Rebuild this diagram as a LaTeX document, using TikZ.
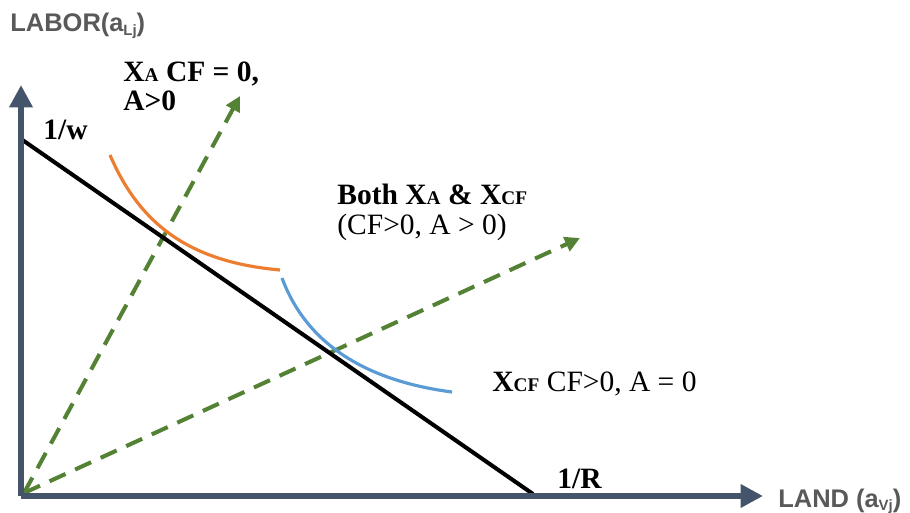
\documentclass[tikz,border=0pt]{standalone}
\usepackage{fontspec}
\setmainfont{Liberation Serif}
\newfontfamily\axisfont{Liberation Sans}
\usetikzlibrary{arrows.meta}
\definecolor{axisblue}{HTML}{44546A}
\definecolor{raygreen}{HTML}{548235}
\definecolor{isoorange}{HTML}{ED7D31}
\definecolor{isoblue}{HTML}{5B9BD5}
\definecolor{labelgray}{HTML}{595959}
\newcommand\lowcap[1]{{\fontsize{11}{11}\selectfont #1}}
\newcommand\axsub[1]{\raisebox{-2pt}{\fontsize{8.5}{8.5}\selectfont #1}}

\begin{document}
\begin{tikzpicture}[x=0.02cm,y=-0.02cm,
  every node/.style={font=\fontsize{16.8}{18}\selectfont,inner sep=0pt,anchor=base west},
  axis/.style={draw=axisblue,line width=3.4pt,-{Triangle[length=0.45cm,width=0.45cm]}},
  ray/.style={draw=raygreen,line width=2.3pt,dash pattern=on 10pt off 6pt,-{Triangle[length=0.3cm,width=0.3cm]}},
  budget/.style={draw=black,line width=2.3pt},
  iso/.style={line width=1.8pt},
  boldlbl/.style={font=\fontsize{16.8}{18}\selectfont\bfseries},
  axislabel/.style={font=\axisfont\bfseries\fontsize{14.5}{16}\selectfont,text=labelgray}]
\useasboundingbox (0,0) rectangle (910,513);
\coordinate (o) at (21,496);
\coordinate (ytip) at (21,85);
\coordinate (xtip) at (763,496);
\coordinate (w) at (21,139);
\coordinate (r) at (533,494);
\coordinate (rayo) at (24,493);
\coordinate (ray1) at (240,96);
\coordinate (ray2) at (580,238);
\coordinate (ostart) at (110,155);
\coordinate (oend) at (280,270);
\coordinate (bstart) at (282,278);
\coordinate (bend) at (452,392);

\draw[ray] (rayo) -- (ray1);
\draw[ray] (rayo) -- (ray2);
\draw[budget] (w) -- (r);
\draw[iso,isoorange] (ostart) .. controls (140,225) and (190,262) .. (oend);
\draw[iso,isoblue] (bstart) .. controls (305,340) and (360,380) .. (bend);
\draw[axis] (o) -- (ytip);
\draw[axis] (o) -- (xtip);

\node[axislabel] (labor) at (10,32) {LABOR({\Large a}\axsub{Lj})};
\node[axislabel] (land) at (778,507) {LAND ({\Large a}\axsub{Vj})};
\node[boldlbl] (wlbl) at (43,140) {1/w};
\node[boldlbl] (rlbl) at (557,488) {1/R};
\node[boldlbl] (ray1top) at (123,82) {X\lowcap{A} CF = 0,};
\node[boldlbl] (ray1bot) at (123,111) {A>0};
\node[boldlbl] (ray2top) at (337,205) {Both X\lowcap{A} \& X\lowcap{CF}};
\node (ray2bot) at (337,235) {(CF>0, A > 0)};
\node (cflbl) at (492,392) {\textbf{X\lowcap{CF}} CF>0, A = 0};
\end{tikzpicture}
\end{document}
